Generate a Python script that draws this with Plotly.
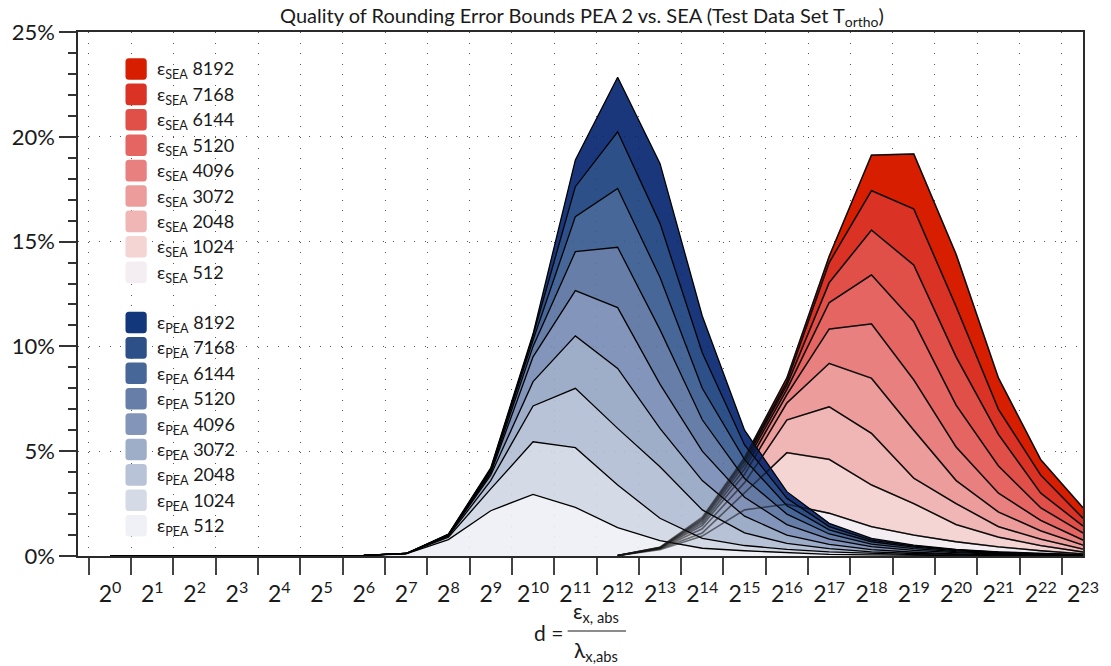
import plotly.graph_objects as go

# ---------------- data ----------------
exponents = list(range(24))
tick_labels = [f"2<sup>{k}</sup>" for k in exponents]
sizes = [512, 1024, 2048, 3072, 4096, 5120, 6144, 7168, 8192]

# PEA (blue), values in %, x = exponent 0..23
pea_512  = [0, 0, 0, 0, 0.01, 0.015, 0.03, 0.10, 0.78, 2.16, 2.94, 2.32, 1.35, 0.73, 0.37, 0.25, 0.15, 0.08, 0.05, 0.03, 0.02, 0.01, 0.01, 0.0]
pea_1024 = [0, 0, 0, 0, 0.01, 0.015, 0.03, 0.11, 0.90, 3.20, 5.45, 5.17, 3.39, 1.80, 0.84, 0.50, 0.32, 0.20, 0.12, 0.07, 0.04, 0.03, 0.02, 0.01]
pea_2048 = [0, 0, 0, 0, 0.01, 0.015, 0.03, 0.12, 0.95, 3.60, 7.16, 8.00, 6.09, 4.26, 2.20, 1.10, 0.60, 0.35, 0.20, 0.12, 0.07, 0.04, 0.02, 0.01]
pea_3072 = [0, 0, 0, 0, 0.01, 0.015, 0.03, 0.12, 0.98, 3.85, 8.32, 10.50, 8.95, 6.09, 3.60, 1.90, 1.00, 0.55, 0.30, 0.18, 0.10, 0.06, 0.03, 0.02]
pea_4096 = [0, 0, 0, 0, 0.01, 0.015, 0.03, 0.12, 1.00, 3.95, 9.50, 12.66, 11.85, 8.20, 5.00, 2.80, 1.50, 0.80, 0.45, 0.27, 0.16, 0.09, 0.05, 0.03]
pea_5120 = [0, 0, 0, 0, 0.01, 0.015, 0.03, 0.12, 1.01, 4.00, 10.00, 14.52, 14.73, 10.80, 6.50, 3.70, 2.00, 1.05, 0.57, 0.35, 0.21, 0.12, 0.07, 0.04]
pea_6144 = [0, 0, 0, 0, 0.01, 0.015, 0.03, 0.12, 1.02, 4.10, 10.30, 16.19, 17.54, 13.30, 8.00, 4.60, 2.40, 1.25, 0.68, 0.42, 0.26, 0.15, 0.09, 0.05]
pea_7168 = [0, 0, 0, 0, 0.01, 0.015, 0.03, 0.12, 1.03, 4.15, 10.50, 17.62, 20.24, 15.87, 9.70, 5.30, 2.75, 1.40, 0.76, 0.47, 0.29, 0.18, 0.10, 0.06]
pea_8192 = [0, 0, 0, 0, 0.01, 0.015, 0.03, 0.12, 1.05, 4.20, 10.60, 18.90, 22.84, 18.73, 11.45, 6.00, 3.07, 1.56, 0.84, 0.52, 0.32, 0.20, 0.12, 0.07]

# SEA (red), values in %, x = exponent 12..23
sea_exponents = list(range(12, 24))
sea_512  = [0.02, 0.30, 0.95, 2.20, 2.47, 2.04, 1.40, 1.00, 0.68, 0.44, 0.25, 0.10]
sea_1024 = [0.02, 0.33, 1.10, 3.00, 4.93, 4.61, 3.39, 2.50, 1.50, 0.90, 0.50, 0.19]
sea_2048 = [0.02, 0.35, 1.30, 3.50, 6.49, 7.12, 5.85, 3.71, 2.50, 1.40, 0.80, 0.33]
sea_3072 = [0.02, 0.37, 1.45, 3.90, 7.30, 9.19, 8.48, 6.00, 3.60, 2.10, 1.20, 0.52]
sea_4096 = [0.02, 0.38, 1.55, 4.15, 7.70, 10.83, 11.07, 8.40, 5.20, 3.00, 1.70, 0.76]
sea_5120 = [0.02, 0.39, 1.65, 4.35, 7.95, 12.09, 13.41, 11.18, 7.20, 4.30, 2.30, 1.10]
sea_6144 = [0.02, 0.40, 1.72, 4.50, 8.15, 13.04, 15.55, 13.88, 9.50, 5.80, 3.00, 1.43]
sea_7168 = [0.02, 0.41, 1.78, 4.60, 8.30, 14.00, 17.43, 16.56, 11.90, 7.00, 3.86, 1.80]
sea_8192 = [0.02, 0.42, 1.85, 4.70, 8.50, 14.30, 19.13, 19.18, 14.40, 8.50, 4.60, 2.30]

pea_series = [pea_512, pea_1024, pea_2048, pea_3072, pea_4096, pea_5120, pea_6144, pea_7168, pea_8192]
sea_series = [sea_512, sea_1024, sea_2048, sea_3072, sea_4096, sea_5120, sea_6144, sea_7168, sea_8192]

pea_colors = ["#eff1f6", "#d5dbe6", "#b8c3d8", "#9eaec9", "#8495ba", "#677fa8", "#476799", "#2e5089", "#12377a"]
sea_colors = ["#f4eef3", "#f5d4d4", "#f0b6b5", "#ec9c9a", "#e88080", "#e46562", "#e04f48", "#db3226", "#d81e00"]

FONT = "Lato"
# plot area in pixels
L, R, T, B = 74, 1090, 32, 556
W, H = R - L, B - T


def px2paper_x(px):
    return (px - L) / W


def px2paper_y(py):
    return (B - py) / H


def hex2rgb(h):
    h = h.lstrip("#")
    return tuple(int(h[i:i + 2], 16) for i in (0, 2, 4))


def alpha_fill(h, a):
    r, g, b = hex2rgb(h)
    base = [max(0, min(255, round((c - 255 * (1 - a)) / a))) for c in (r, g, b)]
    return f"rgba({base[0]},{base[1]},{base[2]},{a})"


fig = go.Figure()

# SEA: opaque bands, drawn first (behind)
for i, (vals, col) in enumerate(zip(sea_series, sea_colors)):
    fig.add_trace(go.Scatter(
        x=sea_exponents, y=vals, mode="lines",
        line=dict(color="black", width=1.3),
        fill="tozeroy" if i == 0 else "tonexty", fillcolor=col,
        showlegend=False, hoverinfo="skip"))

# PEA: slightly transparent bands on top
A = 0.9
for i, (vals, col) in enumerate(zip(pea_series, pea_colors)):
    fig.add_trace(go.Scatter(
        x=exponents, y=vals, mode="lines",
        line=dict(color="black", width=1.3),
        fill="tozeroy" if i == 0 else "tonexty", fillcolor=alpha_fill(col, A),
        showlegend=False, hoverinfo="skip"))

# SEA outlines shining through the PEA areas
for vals in sea_series:
    fig.add_trace(go.Scatter(
        x=sea_exponents, y=vals, mode="lines",
        line=dict(color="rgba(20,20,20,0.5)", width=1.6),
        showlegend=False, hoverinfo="skip"))

shapes = []
annotations = []

# manual legend
def rounded_rect(x0, y0, x1, y1, r=3):
    rx, ry = r / W, r / H
    X0, X1 = px2paper_x(x0), px2paper_x(x1)
    Y0, Y1 = px2paper_y(y1), px2paper_y(y0)  # Y0 bottom, Y1 top
    return (f"M{X0+rx},{Y0} L{X1-rx},{Y0} Q{X1},{Y0} {X1},{Y0+ry} "
            f"L{X1},{Y1-ry} Q{X1},{Y1} {X1-rx},{Y1} L{X0+rx},{Y1} "
            f"Q{X0},{Y1} {X0},{Y1-ry} L{X0},{Y0+ry} Q{X0},{Y0} {X0+rx},{Y0} Z")

step = 25.4
for j, idx in enumerate(range(8, -1, -1)):
    for name, colors, y0 in (("SEA", sea_colors, 69.0), ("PEA", pea_colors, 322.5)):
        cy = y0 + j * step
        shapes.append(dict(type="path", xref="paper", yref="paper",
                           path=rounded_rect(122, cy - 10.8, 143.5, cy + 10.8, 3.5),
                           fillcolor=colors[idx], line=dict(width=0), layer="above"))
        annotations.append(dict(xref="paper", yref="paper", x=px2paper_x(152), y=px2paper_y(cy + 1),
                                xanchor="left", yanchor="middle", showarrow=False,
                                text=f"ε<sub>{name}</sub> {sizes[idx]}",
                                font=dict(family=FONT, size=18, color="#1a1a1a")))

# x-axis title as a fraction
annotations.append(dict(xref="paper", yref="paper", x=px2paper_x(566), y=px2paper_y(632),
                        xanchor="right", yanchor="middle", showarrow=False,
                        text="d =", font=dict(family=FONT, size=21, color="#1a1a1a")))
annotations.append(dict(xref="paper", yref="paper", x=px2paper_x(598), y=px2paper_y(612),
                        xanchor="center", yanchor="middle", showarrow=False,
                        text="ε<sub>x, abs</sub>", font=dict(family=FONT, size=21, color="#1a1a1a")))
annotations.append(dict(xref="paper", yref="paper", x=px2paper_x(598), y=px2paper_y(651),
                        xanchor="center", yanchor="middle", showarrow=False,
                        text="λ<sub>x,abs</sub>", font=dict(family=FONT, size=21, color="#1a1a1a")))
shapes.append(dict(type="line", xref="paper", yref="paper",
                   x0=px2paper_x(569), x1=px2paper_x(628), y0=px2paper_y(631), y1=px2paper_y(631),
                   line=dict(color="#1a1a1a", width=1.2)))

fig.update_layout(
    width=1111, height=666,
    margin=dict(l=L, r=1111 - R, t=T, b=666 - B),
    paper_bgcolor="white", plot_bgcolor="white",
    font=dict(family=FONT, color="#1a1a1a"),
    title=dict(text="Quality of Rounding Error Bounds PEA 2 vs. SEA (Test Data Set T<sub>ortho</sub>)",
               x=582 / 1111, xanchor="center",
               y=1 - 16 / 666, yanchor="middle",
               font=dict(family=FONT, size=20, color="#1a1a1a")),
    shapes=shapes, annotations=annotations,
    showlegend=False,
)

fig.update_xaxes(
    range=[-0.757, 23],
    tickmode="array", tickvals=exponents, ticktext=tick_labels,
    ticks="outside", ticklen=17, tickcolor="rgba(0,0,0,0)",
    tickfont=dict(family=FONT, size=23, color="#1a1a1a"),
    showgrid=False, zeroline=False,
    showline=True, linecolor="#2a2a2a", linewidth=1.5, mirror=True,
    minor=dict(tickmode="linear", tick0=0.5, dtick=1, ticks="outside", ticklen=17,
               tickcolor="#444", tickwidth=1.5,
               showgrid=True, gridcolor="#555", gridwidth=1, griddash="1px,9.5px"),
)
fig.update_yaxes(
    range=[0, 25],
    tickmode="linear", tick0=0, dtick=5, ticksuffix="%",
    ticks="outside", ticklen=17, tickcolor="#333", tickwidth=1.5,
    tickfont=dict(family=FONT, size=22, color="#1a1a1a"),
    showgrid=True, gridcolor="#555", gridwidth=1, griddash="1px,9.5px",
    zeroline=False,
    showline=True, linecolor="#2a2a2a", linewidth=1.5, mirror=True,
    minor=dict(tickmode="linear", tick0=0, dtick=1, ticks="outside", ticklen=8,
               tickcolor="#333", tickwidth=1.5, showgrid=False),
)

fig.write_html("out.html")
